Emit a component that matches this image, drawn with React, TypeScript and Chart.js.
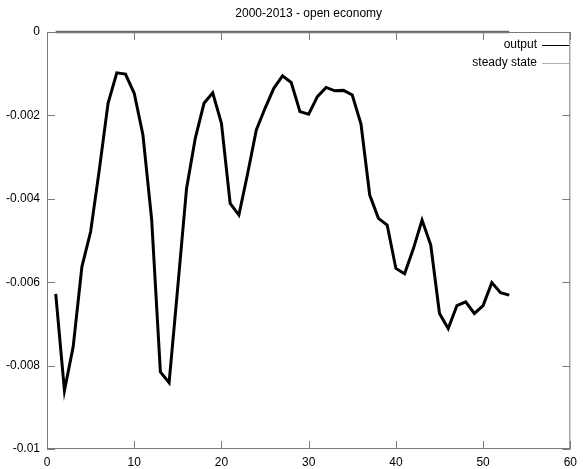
import React, { useEffect, useRef } from "react";
import { Chart, registerables } from "chart.js";

Chart.register(...registerables);

// Period index (quarters) and model output deviation
const periods: number[] = Array.from({ length: 53 }, (_, i) => i + 1);
const output: number[] = [
  -0.00628, -0.0086, -0.00755, -0.00563, -0.00479, -0.0033, -0.00171, -0.00098, -0.00101, -0.00147,
  -0.00247, -0.0045, -0.00815, -0.00841, -0.0061, -0.00375, -0.00255, -0.00171, -0.00146, -0.00219,
  -0.00411, -0.00439, -0.0034, -0.00235, -0.00183, -0.00135, -0.00105, -0.00121, -0.00191, -0.00197,
  -0.00155, -0.00133, -0.00141, -0.0014, -0.00151, -0.00221, -0.00391, -0.00447, -0.00463, -0.00567,
  -0.0058, -0.0052, -0.00451, -0.00511, -0.00675, -0.00711, -0.00656, -0.00647, -0.00675, -0.00656,
  -0.00601, -0.00625, -0.00631,
];
const steadyState: number[] = periods.map(() => 0);

const xTicks: number[] = [0, 10, 20, 30, 40, 50, 60];
const yTicks: number[] = [0, -0.002, -0.004, -0.006, -0.008, -0.01];
const titleText = "2000-2013 - open economy";
const legendLabels = ["output", "steady state"];

const FONT = '"Liberation Sans", Arial, sans-serif';

// Gnuplot-style frame: mirrored inward ticks, title and key
const framePlugin = {
  id: "frame",
  afterDatasetsDraw(chart: any) {
    const { ctx, chartArea: a, scales } = chart;
    const xs = scales.x;
    const ys = scales.y;
    ctx.save();
    ctx.strokeStyle = "#7a7a7a";
    ctx.lineWidth = 1;
    ctx.beginPath();
    ctx.rect(a.left + 0.5, a.top + 0.5, a.right - a.left - 1, a.bottom - a.top - 1);
    ctx.stroke();
    const len = 8;
    ctx.beginPath();
    xTicks.forEach((v) => {
      const px = Math.round(xs.getPixelForValue(v)) + 0.5;
      ctx.moveTo(px, a.bottom);
      ctx.lineTo(px, a.bottom - len);
      ctx.moveTo(px, a.top);
      ctx.lineTo(px, a.top + len);
    });
    yTicks.forEach((v) => {
      const py = Math.round(ys.getPixelForValue(v)) + 0.5;
      ctx.moveTo(a.left, py);
      ctx.lineTo(a.left + len, py);
      ctx.moveTo(a.right, py);
      ctx.lineTo(a.right - len, py);
    });
    ctx.stroke();

    // title
    ctx.fillStyle = "#000";
    ctx.font = `12px ${FONT}`;
    ctx.textAlign = "center";
    ctx.textBaseline = "middle";
    ctx.fillText(titleText, (a.left + a.right) / 2, 14);

    // key
    ctx.textAlign = "right";
    const colors = ["#000000", "#b0b0b0"];
    legendLabels.forEach((lab, i) => {
      const y = 45 + i * 18;
      ctx.fillStyle = "#000";
      ctx.fillText(lab, 537, y);
      ctx.strokeStyle = colors[i];
      ctx.lineWidth = 1;
      ctx.beginPath();
      ctx.moveTo(542, y + 0.5);
      ctx.lineTo(569, y + 0.5);
      ctx.stroke();
    });
    ctx.restore();
  },
};

export default function App() {
  const ref = useRef<HTMLCanvasElement | null>(null);

  useEffect(() => {
    document.body.style.margin = "0";
    const canvas = ref.current;
    if (!canvas) return;
    const chart = new Chart(canvas, {
      type: "line",
      data: {
        datasets: [
          {
            label: "output",
            data: periods.map((p, i) => ({ x: p, y: output[i] })),
            borderColor: "#000000",
            borderWidth: 3,
            borderJoinStyle: "miter",
            pointRadius: 0,
            tension: 0,
          },
          {
            label: "steady state",
            data: periods.map((p, i) => ({ x: p, y: steadyState[i] })),
            borderColor: "#6a6a6a",
            borderWidth: 2.5,
            pointRadius: 0,
            tension: 0,
            clip: false,
          },
        ],
      },
      options: {
        animation: false,
        responsive: false,
        devicePixelRatio: 1,
        layout: { padding: { top: 32, right: 7, left: 0, bottom: 0 } },
        plugins: {
          legend: { display: false },
          title: { display: false },
          tooltip: { enabled: false },
        },
        scales: {
          x: {
            type: "linear",
            min: 0,
            max: 60,
            afterFit: (s: any) => {
              s.height = 20;
            },
            afterBuildTicks: (s: any) => {
              s.ticks = xTicks.map((v) => ({ value: v }));
            },
            grid: { display: false, drawTicks: false },
            border: { display: false },
            ticks: {
              color: "#000",
              font: { family: FONT, size: 12 },
              padding: 6,
              maxRotation: 0,
              callback: (v: any) => String(v),
            },
          },
          y: {
            type: "linear",
            min: -0.01,
            max: 0,
            afterFit: (s: any) => {
              s.width = 47;
            },
            afterBuildTicks: (s: any) => {
              s.ticks = yTicks.map((v) => ({ value: v }));
            },
            grid: { display: false, drawTicks: false },
            border: { display: false },
            ticks: {
              color: "#000",
              font: { family: FONT, size: 12 },
              padding: 7,
              callback: (v: any) => String(Number(Number(v).toFixed(4))),
            },
          },
        },
      },
      plugins: [framePlugin],
    });
    return () => chart.destroy();
  }, []);

  return (
    <div style={{ position: "absolute", left: 0, top: 0, width: 583, height: 469, background: "#fff" }}>
      <canvas ref={ref} width={583} height={469} style={{ display: "block" }} />
    </div>
  );
}
